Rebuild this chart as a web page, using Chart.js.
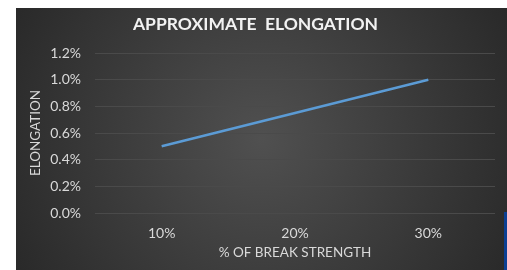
<!DOCTYPE html>
<html>
<head>
  <meta name="viewport" content="width=device-width, initial-scale=1.0">
  <title>Approximate Elongation</title>
  <script src="https://cdn.jsdelivr.net/npm/chart.js"></script>
  <style>
    body {
      margin: 0;
      padding: 0;
      background: #ffffff;
      width: 507px;
      height: 270px;
      overflow: hidden;
      position: relative;
    }

    .chart-box {
      position: absolute;
      left: 16px;
      top: 8px;
      width: 491px;
      height: 262px;
    }

    .edge {
      position: absolute;
      left: 504px;
      top: 212px;
      width: 3px;
      height: 58px;
      background: #0b3f93;
    }
  </style>
</head>
<body>

  <div class="chart-box">
    <canvas id="elongChart"></canvas>
  </div>
  <div class="edge"></div>

  <script>
    // data
    const breakStrength = ['10%', '20%', '30%'];
    const elongation = [0.005, 0.0075, 0.01];

    const textColor = '#d9d9d9';
    const fontName = 'Lato, "Open Sans", sans-serif';

    // dark radial background like the office chart style
    const backdrop = {
      id: 'backdrop',
      beforeDraw(chart) {
        const { ctx, width, height } = chart;
        const g = ctx.createRadialGradient(width / 2, height / 2, 0, width / 2, height / 2, width * 0.6);
        g.addColorStop(0, '#505050');
        g.addColorStop(1, '#272727');
        ctx.save();
        ctx.fillStyle = g;
        ctx.fillRect(0, 0, width, height);
        ctx.restore();
      }
    };

    const ctx = document.getElementById('elongChart').getContext('2d');
    const chart = new Chart(ctx, {
      type: 'line',
      data: {
        labels: breakStrength,
        datasets: [{
          label: 'Elongation',
          data: elongation,
          borderColor: '#5b9bd5',
          borderWidth: 2.5,
          pointRadius: 0,
          tension: 0
        }]
      },
      options: {
        responsive: true,
        maintainAspectRatio: false,
        animation: false,
        layout: { padding: { left: 0, right: 12, top: 0, bottom: 0 } },
        plugins: {
          legend: { display: false },
          tooltip: { enabled: false },
          title: {
            display: true,
            text: 'APPROXIMATE  ELONGATION',
            color: '#f2f2f2',
            font: { family: fontName, size: 17.5, weight: 'bold' },
            padding: { top: 6, bottom: 18 }
          }
        },
        scales: {
          x: {
            offset: true,
            grid: { display: false, drawTicks: false },
            border: { display: false },
            ticks: {
              color: textColor,
              font: { family: fontName, size: 14 },
              padding: 12
            },
            title: {
              display: true,
              text: '% OF BREAK STRENGTH',
              color: textColor,
              font: { family: fontName, size: 13.5 },
              padding: { top: 0, bottom: 9 }
            },
            afterFit(scale) { scale.height = 57; }
          },
          y: {
            min: 0,
            max: 0.012,
            grid: { color: '#4a4a4a', lineWidth: 1, drawTicks: false },
            border: { display: false },
            ticks: {
              stepSize: 0.002,
              color: textColor,
              font: { family: fontName, size: 14 },
              padding: 14,
              callback: v => (v * 100).toFixed(1) + '%'
            },
            title: {
              display: true,
              text: 'ELONGATION',
              color: textColor,
              font: { family: fontName, size: 13.5 },
              padding: { top: 12, bottom: 0 }
            },
            afterFit(scale) { scale.width = 79; }
          }
        }
      },
      plugins: [backdrop]
    });
  </script>
</body>
</html>
